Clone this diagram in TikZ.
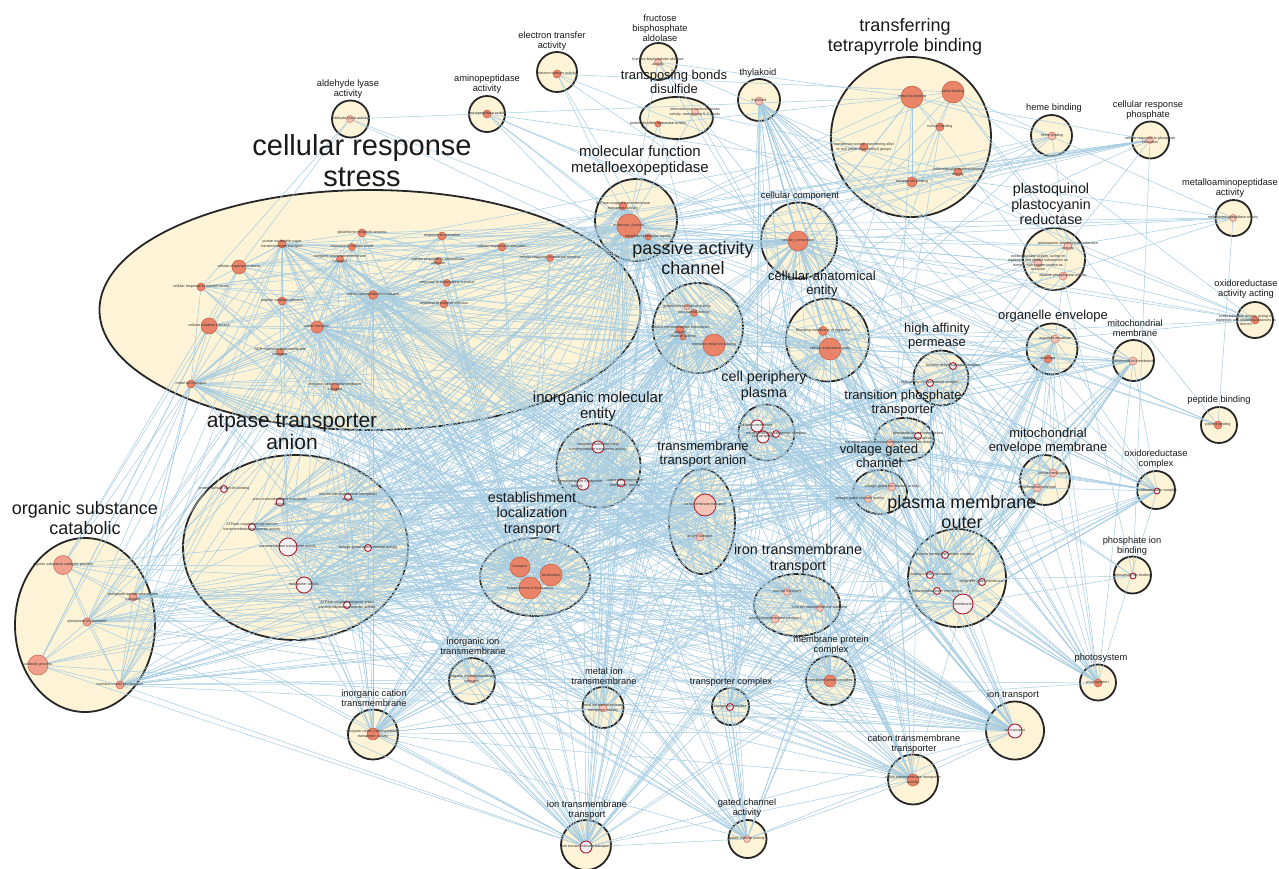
\documentclass[tikz,border=0pt]{standalone}
\usepackage{fontspec}
\setmainfont{Liberation Sans}
\usetikzlibrary{shapes.geometric}
\pgfdeclarelayer{bg}
\pgfdeclarelayer{edges}
\pgfsetlayers{bg,edges,main}
\definecolor{cream}{RGB}{253,243,214}
\definecolor{edgeblue}{RGB}{164,203,225}
\definecolor{orF}{RGB}{234,132,104}
\definecolor{orD}{RGB}{196,88,66}
\definecolor{pkF}{RGB}{246,196,182}
\definecolor{pkD}{RGB}{206,112,98}
\definecolor{wrF}{RGB}{246,240,240}
\definecolor{wrD}{RGB}{168,28,48}
\definecolor{znF}{RGB}{240,160,140}
\definecolor{znD}{RGB}{205,105,90}
\definecolor{outl}{RGB}{38,38,38}
\definecolor{txt}{RGB}{25,25,25}
\tikzset{
 clus/.style={draw=outl, line width=1.8pt, fill=cream, inner sep=0pt, outer sep=0pt, ellipse},
 cn/.style={circle, draw=orD, fill=orF, line width=0.5pt, inner sep=0pt},
 pn/.style={circle, draw=pkD, fill=pkF, line width=0.5pt, inner sep=0pt},
 wn/.style={circle, draw=wrD, fill=wrF, line width=0.9pt, inner sep=0pt},
 sn/.style={circle, draw=wrD, fill=pkF, line width=0.8pt, inner sep=0pt},
 zn/.style={circle, draw=znD, fill=znF, line width=0.6pt, inner sep=0pt},
 tiny/.style={font=\fontsize{3.7}{4.2}\selectfont, text=black!80, align=center, inner sep=0pt},
 lab/.style={text=txt, align=center, inner sep=0pt},
 Lxxl/.style={lab, font=\fontsize{29}{31}\selectfont},
 Lxl/.style={lab, font=\fontsize{21}{22}\selectfont},
 Ll/.style={lab, font=\fontsize{18}{19.5}\selectfont},
 Lm/.style={lab, font=\fontsize{15}{16}\selectfont},
 Lmf/.style={lab, font=\fontsize{14.3}{15.5}\selectfont},
 Lmm/.style={lab, font=\fontsize{13}{14}\selectfont},
 Ls/.style={lab, font=\fontsize{9.3}{10}\selectfont},
 ed/.style={draw=edgeblue, line width=0.5pt},
}
\newcommand\GN[6]{\node[#2, minimum size=#5pt] (#1) at (#3,#4) {};\node[tiny] (#1t) at (#3,#4) {#6};}
\newcommand\GC[5]{\node[clus, minimum width=#4pt, minimum height=#5pt] (#1) at (#2,#3) {};}
\def\Tset{m1,m6,m13,m16,m17,m18,m19,x1,x2,x3,w1,w2,z2,z3,z5,aa1,aa2,aa3,aj1,ao1,aq1}
\def\Aset{n1,n2,n3,p2,p3,p4,p5,v1,v2,v3,y2,y3,y4,y5,y6,y7,y8,t1,t2,u1,u2,ak1,ap1,an1,ar1}
\def\Cset{o1,q1,q2,s1,s2,s3,ab1,ab2,ab3,ab4,ab5,ac1,ac2,ad1,ad2,ae1,al1,am1,r1,r2,f1,ag1,ai1}
\begin{document}
\begin{tikzpicture}[x=1pt,y=-1pt]
\useasboundingbox (0,0) rectangle (1279,868);
\begin{pgfonlayer}{bg}
\fill[white] (0,0) rectangle (1279,868);
\GC{cA}{350.5}{119}{37}{37}
\GC{cB}{487}{114}{36}{36}
\GC{cC}{557}{72}{40}{40}
\GC{cD}{658.5}{61.5}{37}{37}
\GC{cE}{676.5}{118}{73}{42}
\GC{cF}{759}{100}{42}{42}
\GC{cG}{911}{137}{160}{160}
\GC{cH}{1051.5}{135.5}{41}{41}
\GC{cI}{1150.5}{140}{37}{37}
\GC{cJ}{1233.5}{218}{36}{36}
\GC{cK}{1255}{320}{36}{36}
\GC{cL}{1054}{259}{62}{62}
\GC{cM}{370}{310}{541}{240}
\GC{cN}{636}{220}{82}{82}
\GC{cO}{799}{240.5}{76}{76}
\GC{cP}{698}{328}{90}{90}
\GC{cQ}{827.5}{340}{83}{83}
\GC{cR}{941}{378}{55}{55}
\GC{cS}{766.5}{432.5}{56}{56}
\GC{cT}{904.5}{439.5}{59}{43}
\GC{cU}{880}{492}{54}{44}
\GC{cV}{598.5}{465.5}{84}{84}
\GC{cW}{702}{521.5}{66}{105}
\GC{cX}{535}{577}{110}{78}
\GC{cY}{295.5}{547.5}{225}{185}
\GC{cZ}{85}{625}{140}{174}
\GC{cAA}{797}{605}{86}{62}
\GC{cAB}{957}{578}{98}{98}
\GC{cAC}{1045}{480}{50}{50}
\GC{cAD}{1052}{349}{51}{51}
\GC{cAE}{1133.5}{360.5}{41}{41}
\GC{cAF}{1219}{425}{36}{36}
\GC{cAG}{1156}{490}{38}{38}
\GC{cAH}{1132.5}{575}{37}{37}
\GC{cAI}{1098}{682.5}{36}{36}
\GC{cAJ}{1015}{730.5}{58}{58}
\GC{cAK}{913}{779.5}{50}{50}
\GC{cAL}{830.5}{680.5}{49}{49}
\GC{cAM}{730.5}{706.5}{37}{37}
\GC{cAN}{747.5}{839}{38}{38}
\GC{cAO}{586}{845}{50}{50}
\GC{cAP}{603}{707.5}{41}{41}
\GC{cAQ}{472}{681}{46}{46}
\GC{cAR}{373}{734.5}{50}{50}
\end{pgfonlayer}
% inner nodes
\GN{a1}{pn}{350}{119}{7}{aldehyde-lyase activity}
\GN{b1}{cn}{487}{114}{8}{aminopeptidase activity}
\GN{c1}{cn}{557}{74}{8}{electron transfer activity}
\GN{d1}{pn}{658}{62}{7}{fructose-bisphosphate aldolase\\activity}
\GN{e1}{pn}{695}{112}{7}{intramolecular oxidoreductase\\activity, transposing S-S bonds}
\GN{e2}{cn}{658}{124}{6}{protein disulfide isomerase activity}
\GN{f1}{pn}{759}{101}{8}{thylakoid}
\GN{g1}{cn}{912}{97}{22}{metal ion binding}
\GN{g2}{cn}{953}{92}{22}{cation binding}
\GN{g3}{cn}{940}{127}{8}{iron ion binding}
\GN{g4}{cn}{864}{147}{8}{transferase activity, transferring alkyl\\or aryl (other than methyl) groups}
\GN{g5}{cn}{958}{172}{8}{intramolecular oxidoreductase\\activity}
\GN{g6}{cn}{912}{182}{10}{tetrapyrrole binding}
\GN{h1}{pn}{1052}{136}{8}{heme binding}
\GN{i1}{pn}{1150}{140}{7}{cellular response to phosphate\\starvation}
\GN{j1}{pn}{1233}{218}{7}{metalloaminopeptidase activity}
\node[cn, minimum size=8pt] (k1) at (1255,320) {};
\node[tiny] (k1t) at (1246,320) {oxidoreductase activity, acting on\\diphenols and related substances as\\donors};
\GN{l1}{pn}{1068}{246}{8}{plastoquinol--plastocyanin reductase\\activity}
\GN{l2}{pn}{1038}{263}{8}{oxidoreductase activity, acting on\\diphenols and related substances as\\donors, with copper protein as\\acceptor}
\GN{l3}{pn}{1063}{276}{8}{alkaline phosphatase activity}
\GN{m1}{cn}{282}{244}{8}{purine nucleotide-sugar\\transmembrane transport}
\GN{m2}{cn}{362}{233}{8}{glutathione metabolic process}
\GN{m3}{cn}{442}{236}{8}{response to starvation}
\GN{m4}{cn}{239}{267}{14}{cellular response to stress}
\GN{m5}{cn}{352}{247}{7}{response to nutrient levels}
\GN{m6}{cn}{340}{259}{7}{inorganic anion transmembrane\\transport}
\GN{m7}{cn}{502}{247}{8}{cellular response to starvation}
\GN{m8}{cn}{438}{261}{7}{cellular response to extracellular\\stimulus}
\GN{m9}{cn}{550}{258}{7}{cellular response to external stimulus}
\GN{m10}{cn}{201}{287}{8}{cellular response to nutrient levels}
\GN{m11}{cn}{447}{283}{7}{response to extracellular stimulus}
\GN{m12}{cn}{282}{301}{8}{peptide catabolic process}
\GN{m13}{cn}{373}{295}{9}{cation transmembrane transport}
\GN{m14}{cn}{444}{304}{8}{response to external stimulus}
\GN{m15}{cn}{209}{326}{16}{cellular catabolic process}
\GN{m16}{cn}{317}{327}{12}{cation transport}
\GN{m17}{cn}{280}{352}{7}{GDP-mannose transmembrane\\transport}
\GN{m18}{cn}{335}{387}{8}{inorganic cation transmembrane\\transport}
\GN{m19}{cn}{191}{384}{8}{metal ion transport}
\GN{n1}{cn}{623}{206}{8}{ATPase-coupled transmembrane\\transporter activity}
\GN{n2}{cn}{629}{226}{24}{molecular\_function}
\GN{n3}{cn}{648}{237}{6}{metalloexopeptidase activity}
\GN{o1}{cn}{798}{241}{20}{cellular\_component}
\GN{p1}{pn}{687}{307}{6}{glutathione hydrolase activity}
\GN{p2}{cn}{694}{313}{7}{ion channel activity}
\GN{p3}{cn}{680}{330}{8}{passive transmembrane transporter\\activity}
\GN{p4}{cn}{683}{337}{6}{channel activity}
\GN{p5}{cn}{714}{345}{22}{transition metal ion binding}
\GN{q1}{cn}{823}{331}{9}{bounding membrane of organelle}
\GN{q2}{cn}{830}{349}{22}{cellular anatomical entity}
\GN{r1}{wn}{953}{366}{7}{formate dehydrogenase complex}
\GN{r2}{wn}{930}{383}{7}{high-affinity iron permease complex}
\GN{s1}{wn}{757}{426}{12}{plasma membrane}
\GN{s2}{wn}{763}{437}{12}{cell periphery}
\GN{s3}{wn}{776}{434}{7}{transmembrane transporter complex}
\GN{t1}{wn}{918}{436}{7}{phosphate ion transmembrane\\transporter activity}
\GN{t2}{pn}{890}{443}{7}{transition metal ion transmembrane transporter activity}
\GN{u1}{pn}{892}{487}{8}{voltage-gated ion channel activity}
\node[pn, minimum size=7pt] (u2) at (868,499) {};
\node[tiny] (u2t) at (860,499) {voltage-gated channel activity};
\GN{v1}{wn}{598}{447}{12}{inorganic molecular entity\\transmembrane transporter activity}
\node[wn, minimum size=12pt] (v2) at (583,484) {};
\node[tiny] (v2t) at (577,484) {ion transmembrane transporter\\activity};
\node[wn, minimum size=8pt] (v3) at (621,483) {};
\node[tiny] (v3t) at (625,483) {anion transmembrane\\transporter activity};
\GN{w1}{sn}{705}{505}{22}{transmembrane transport}
\GN{w2}{pn}{700}{537}{8}{anion transport}
\GN{x1}{cn}{520}{567}{20}{transport}
\GN{x2}{cn}{551}{575}{22}{localization}
\GN{x3}{cn}{530}{588}{22}{establishment of localization}
\GN{y1}{wn}{224}{489}{7}{protein domain specific binding}
\GN{y2}{wn}{280}{502}{8}{anion transmembrane transporter\\activity}
\GN{y3}{wn}{348}{497}{7}{iron ion transmembrane transporter\\activity}
\GN{y4}{wn}{252}{527}{7}{ATPase-coupled phosphate ion\\transmembrane transporter activity}
\GN{y5}{wn}{288}{547}{18}{transmembrane transporter activity}
\GN{y6}{wn}{368}{548}{7}{voltage-gated anion channel activity}
\GN{y7}{wn}{304}{585}{16}{transporter activity}
\GN{y8}{wn}{347}{605}{7}{ATPase-coupled inorganic anion\\transmembrane transporter activity}
\GN{z1}{zn}{63}{565}{19}{organic substance catabolic process}
\GN{z2}{zn}{133}{597}{8}{phosphate ion transmembrane\\transport}
\GN{z3}{zn}{87}{622}{8}{phosphate ion transport}
\GN{z4}{zn}{38}{665}{20}{catabolic process}
\GN{z5}{zn}{120}{685}{8}{transition metal ion transport}
\GN{aa1}{pn}{787}{592}{7}{iron ion transport}
\GN{aa2}{pn}{820}{608}{7}{iron ion transmembrane transport}
\GN{aa3}{pn}{775}{619}{8}{anion transmembrane transport}
\GN{ab1}{wn}{945}{555}{7}{plasma membrane protein complex}
\GN{ab2}{wn}{930}{575}{7}{photosynthetic membrane}
\GN{ab3}{wn}{982}{582}{7}{organelle outer membrane}
\GN{ab4}{wn}{937}{591}{7}{mitochondrial outer membrane}
\GN{ab5}{wn}{963}{604}{20}{membrane}
\GN{ac1}{pn}{1053}{473}{8}{whole membrane}
\GN{ac2}{pn}{1037}{488}{8}{mitochondrial envelope}
\GN{ad1}{pn}{1055}{339}{8}{organelle envelope}
\GN{ad2}{cn}{1048}{359}{8}{envelope}
\GN{ae1}{pn}{1133}{361}{8}{mitochondrial membrane}
\GN{af1}{cn}{1218}{425}{8}{peptide binding}
\GN{ag1}{wn}{1157}{491}{6}{oxidoreductase complex}
\GN{ah1}{wn}{1133}{576}{6}{phosphate ion binding}
\GN{ai1}{cn}{1098}{683}{8}{photosystem I}
\GN{aj1}{wn}{1015}{731}{14}{ion transport}
\GN{ak1}{cn}{913}{780}{12}{cation transmembrane transporter\\activity}
\GN{al1}{cn}{830}{681}{12}{membrane protein complex}
\GN{am1}{wn}{730}{707}{7}{transporter complex}
\GN{an1}{pn}{747}{839}{7}{gated channel activity}
\GN{ao1}{wn}{586}{847}{12}{ion transmembrane transport}
\GN{ap1}{pn}{603}{708}{8}{metal ion transmembrane\\transporter activity}
\GN{aq1}{pn}{472}{679}{8}{inorganic ion transmembrane\\transport}
\GN{ar1}{cn}{373}{734}{12}{inorganic cation transmembrane\\transporter activity}
% cluster labels
\node[Ls] (lA) at (348,89.5) {aldehyde lyase\\activity};
\node[Ls] (lB) at (487,84) {aminopeptidase\\activity};
\node[Ls] (lC) at (552,41.5) {electron transfer\\activity};
\node[Ls] (lD) at (660,28) {fructose\\bisphosphate\\aldolase};
\node[Lmm] (lE) at (674,82) {transposing bonds\\disulfide};
\node[Ls] (lF) at (758,73) {thylakoid};
\node[Ll] (lG) at (905,37) {transferring\\tetrapyrrole binding};
\node[Ls] (lH) at (1054,108) {heme binding};
\node[Ls] (lI) at (1148,110) {cellular response\\phosphate};
\node[Ls] (lJ) at (1230,188) {metalloaminopeptidase\\activity};
\node[Ls] (lK) at (1246,289) {oxidoreductase\\activity acting};
\node[Lmf] (lL) at (1051,204) {plastoquinol\\plastocyanin\\reductase};
\node[Lxxl] (lM) at (362,161) {cellular response\\stress};
\node[Lm] (lN) at (640,161) {molecular function\\metalloexopeptidase};
\node[Ls] (lO) at (800,196) {cellular component};
\node[Ll] (lP) at (693,258) {passive activity\\channel};
\node[Lmm] (lQ) at (822,284) {cellular anatomical\\entity};
\node[Lmm] (lR) at (937,336) {high affinity\\permease};
\node[Lmf] (lS) at (764,386) {cell periphery\\plasma};
\node[Lmm] (lT) at (903,403) {transition phosphate\\transporter};
\node[Lmm] (lU) at (879,456) {voltage gated\\channel};
\node[Lm] (lV) at (598,407) {inorganic molecular\\entity};
\node[Lmm] (lW) at (703,454) {transmembrane\\transport anion};
\node[Lmf] (lX) at (532,514) {establishment\\localization\\transport};
\node[Lxl] (lY) at (292,432) {atpase transporter\\anion};
\node[Ll] (lZ) at (85,518) {organic substance\\catabolic};
\node[Lmf] (lAA) at (798,559) {iron transmembrane\\transport};
\node[Ll] (lAB) at (962,512) {plasma membrane\\outer};
\node[Lmm] (lAC) at (1048,441) {mitochondrial\\envelope membrane};
\node[Lmm] (lAD) at (1053,316) {organelle envelope};
\node[Ls] (lAE) at (1135,328) {mitochondrial\\membrane};
\node[Ls] (lAF) at (1219,400) {peptide binding};
\node[Ls] (lAG) at (1156,459) {oxidoreductase\\complex};
\node[Ls] (lAH) at (1132,546) {phosphate ion\\binding};
\node[Ls] (lAI) at (1101,658) {photosystem};
\node[Ls] (lAJ) at (1013,695) {ion transport};
\node[Ls] (lAK) at (914,744) {cation transmembrane\\transporter};
\node[Ls] (lAL) at (831,645) {membrane protein\\complex};
\node[Ls] (lAM) at (731,682) {transporter complex};
\node[Ls] (lAN) at (747,808) {gated channel\\activity};
\node[Ls] (lAO) at (587,810) {ion transmembrane\\transport};
\node[Ls] (lAP) at (604,676) {metal ion\\transmembrane};
\node[Ls] (lAQ) at (473,646) {inorganic ion\\transmembrane};
\node[Ls] (lAR) at (374,698) {inorganic cation\\transmembrane};
% edges
\begin{pgfonlayer}{edges}
\foreach \a [count=\i] in \Tset {\foreach \b [count=\j] in \Tset {\ifnum\j>\i \draw[ed] (\a) -- (\b);\fi}}
\foreach \a [count=\i] in \Aset {\foreach \b [count=\j] in \Aset {\ifnum\j>\i \draw[ed] (\a) -- (\b);\fi}}
\foreach \a [count=\i] in \Cset {\foreach \b [count=\j] in \Cset {\ifnum\j>\i \draw[ed] (\a) -- (\b);\fi}}
\foreach \a in {m2,m3,m4,m5,m7,m8,m9,m10,m11,m12,m14,m15} {\foreach \b in {m1,m13,m16,m18,m19,x1,x3,n2,q2,o1} {\draw[ed] (\a) -- (\b);}}
\foreach \a in {x1,x2,x3,w1,aj1,ao1,m16,m13} {\foreach \b in \Aset {\draw[ed] (\a) -- (\b);}}
\foreach \a in {o1,q2,ab5,s1,s2,al1} {\foreach \b in {x1,x2,x3,w1,aj1,ao1,n2,y5,y7,v1,v2,p5,ar1,ak1,m16,m19,z5,aq1} {\draw[ed] (\a) -- (\b);}}
\foreach \a in {z1,z4} {\foreach \b in {m15,m19,m4,x1,x3,z3,z5,z2,aj1,ao1,w1} {\draw[ed] (\a) -- (\b);}}
\foreach \a/\b in {a1/m4,a1/n2,a1/g1,a1/q2,a1/m10,b1/n2,b1/j1,b1/o1,b1/n3,b1/p5,
 c1/n2,c1/g2,c1/p5,c1/l2,c1/o1,d1/n2,d1/g1,d1/o1,d1/k1,d1/q2,
 e1/n2,e1/g5,e1/q2,e2/n2,e2/p5,e2/g1,
 f1/ab5,f1/ab2,f1/s1,f1/al1,f1/ai1,f1/ad1,f1/ae1,f1/q1,f1/ac1,f1/o1,
 g1/n2,g1/p5,g1/q2,g1/h1,g1/i1,g1/g3,g1/g6,g1/g2,g1/o1,g1/l2,g1/u1,
 g2/n2,g2/p5,g2/g3,g2/g6,g2/k1,g2/l1,g2/j1,g2/af1,
 g3/p5,g3/aa1,g6/h1,g6/n2,g6/i1,g4/n2,g4/m4,g5/n2,g5/l1,
 h1/n2,h1/q2,h1/p5,h1/o1,h1/l1,
 i1/m4,i1/m10,i1/m7,i1/m3,i1/m9,i1/m11,i1/m14,i1/m8,i1/ah1,i1/t1,i1/z3,
 j1/af1,j1/n3,j1/n2,j1/l1,j1/q2,j1/o1,
 k1/l2,k1/l1,k1/n2,k1/ad1,k1/o1,k1/p5,
 l1/n2,l1/p5,l1/q2,l1/o1,l1/ad1,l2/n2,l2/o1,l2/q2,l2/t1,l3/n2,l3/p5,l3/ah1,l3/t1,
 af1/n2,af1/b1,af1/n3,af1/o1,
 ae1/ab5,ae1/ab4,ae1/o1,ae1/q2,
 ag1/ab5,ag1/al1,ag1/q2,ag1/o1,ag1/ac1,
 ah1/t1,ah1/z2,ah1/ab5,ah1/n2,
 ai1/ab2,ai1/ab5,ai1/q2,ai1/o1,
 p1/n2,p1/m2,p1/q2,r1/n2,r2/aa1,r2/aa2,r1/m19,
 t1/z2,t1/z3,t2/z5,t2/aa2,t2/g3,u1/p2,u2/p4,
 m19/z5,m19/aa1,m19/aa2,m1/y5,m6/y2,m6/v3,m17/y5,m18/ar1,m18/aq1,
 n2/y5,n2/y7,n2/v1,n2/q2,n2/o1,q2/o1} {\draw[ed] (\a) -- (\b);}
\end{pgfonlayer}
\end{tikzpicture}
\end{document}
